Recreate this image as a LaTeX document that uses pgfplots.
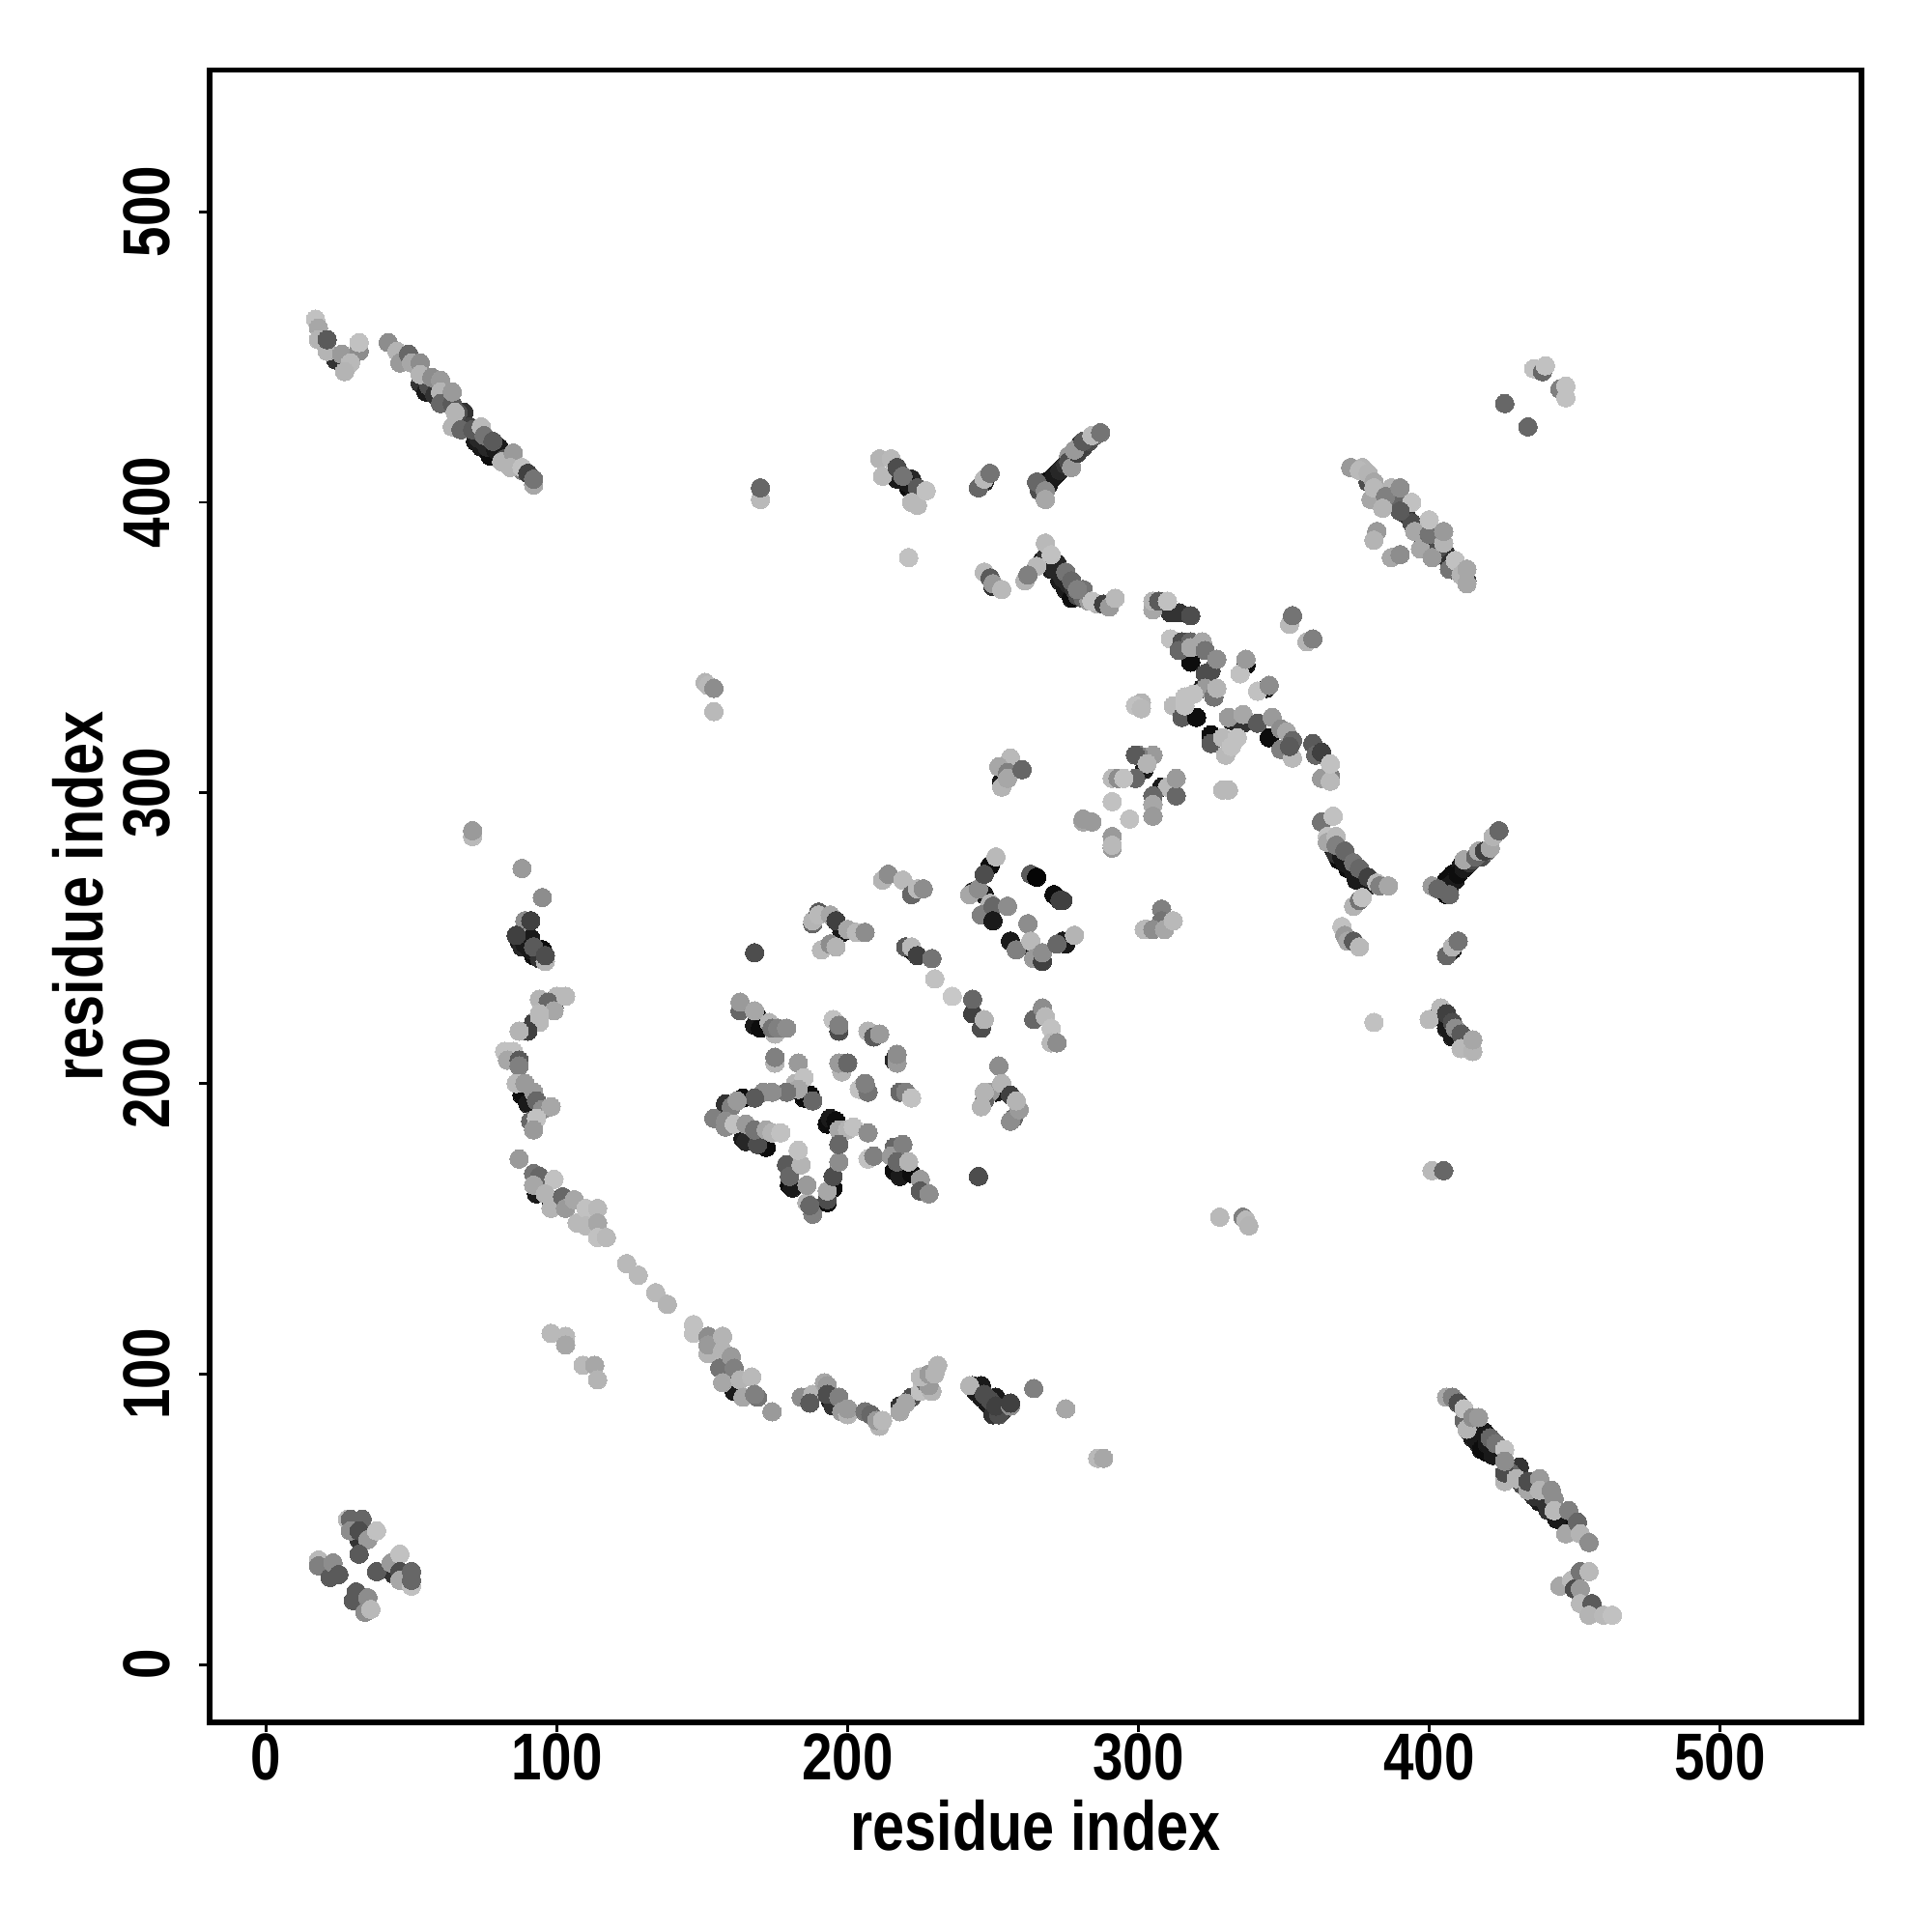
\documentclass[border=0pt]{standalone}
\usepackage{fontspec}
\setmainfont{Liberation Sans}[FakeStretch=0.825]
\usepackage{pgfplots}
\pgfplotsset{compat=1.18}
\pgfplotsset{pt/.style={only marks,scatter,point meta=explicit,mark=*,mark size=2.72pt,
 scatter/use mapped color={draw=mapped color,fill=mapped color,line width=0pt}}}
\begin{document}
\begin{tikzpicture}
\path[use as bounding box] (0,0) rectangle (20,20);
\begin{axis}[at={(2.168cm,2.17cm)},anchor=south west,scale only axis,width=17.105cm,height=17.105cm,
 xmin=-19.5,xmax=548.8,ymin=-19.9,ymax=548.8,
 axis line style={line width=1.62pt},
 xtick={0,100,...,500},ytick={0,100,...,500},
 tick align=outside,tick pos=left,major tick length=0.105cm,
 every tick/.style={black,line width=0.8pt},
 /pgf/number format/assume math mode=true,
 tick label style={font=\fontsize{19.5}{24}\selectfont\bfseries},
 xticklabel style={yshift=0.11cm},
 yticklabel style={rotate=90,anchor=south,yshift=0.18cm},
 xlabel={residue index},ylabel={residue index},
 label style={font=\fontsize{20.5}{24}\selectfont\bfseries},
 xlabel style={at={(axis description cs:0.5,0)},anchor=center,yshift=-1.07cm},
 ylabel style={at={(axis description cs:0,0.5)},anchor=center,yshift=1.365cm},
 colormap={bw}{gray(0cm)=(0); gray(1cm)=(1)},point meta min=0,point meta max=1,
 clip=false]
% dark underlay
\addplot[pt] coordinates {(169,223)[.05](168,220)[.1](170,219)[.05](185,195)[.05](187,196)[.05](164,195)[.05](158,193)[.2](164,181)[.1](165,180)[.15](172,178)[.05]
(193,186)[.05](194,188)[.1](196,187)[.05](193,159)[.05](195,164)[.05](179,172)[.05](180,165)[.05](181,164)[.1](216,170)[.05](218,168)[.1](222,169)[.05](216,208)[.15](251,197)[.1]
(160,99)[.2](161,94)[.1](194,91)[.1](195,89)[.2](218,89)[.2](243,96)[.15](246,96)[.1](250,88)[.15](251,92)[.1](244,94)[.1](246,92)[.1](248,90)[.1](250,86)[.2](253,87)[.2]
(87,249)[.1](91,250)[.1](88,247)[.15](95,246)[.05](92,244)[.05](89,248)[.1](91,246)[.1](93,245)[.1](94,243)[.2](99,226)[.2](88,196)[.05](90,193)[.1](93,162)[.1](98,160)[.1]
(24,449)[.2](47,449)[.05](53,441)[.2](55,438)[.1](68,431)[.2](72,421)[.1](74,419)[.1](77,416)[.05](80,419)[.1](81,416)[.2]
(56,440)[.3](58,437)[.2](62,435)[.3](66,431)[.3](70,426)[.25](72,424)[.2](73,422)[.15](76,419)[.15](79,418)[.1](82,415)[.3](86,413)[.4](88,411)[.5]
(217,408)[.1](221,405)[.05](222,408)[.15](218,410)[.2](220,407)[.1](223,404)[.1](247,407)[.15]
(268,407)[.05](270,408)[.05](272,410)[.05](274,412)[.1](280,420)[.2](266,404)[.3](269,406)[.1](271,409)[.1](273,411)[.15](275,413)[.2](277,415)[.2](279,417)[.3](281,419)[.25](283,421)[.3](285,423)[.4]
(250,371)[.2](267,380)[.1](270,377)[.1](272,379)[.15](273,373)[.1](275,370)[.1](277,367)[.05](268,381)[.2](270,379)[.15](271,377)[.15](273,376)[.15](274,374)[.15](276,372)[.15](278,370)[.2](279,368)[.3](281,367)[.4](283,366)[.6](286,365)[.7](288,365)[.7]
(398,387)[.1](406,382)[.2](379,407)[.3](383,402)[.3](386,400)[.2](392,396)[.2](394,393)[.3](403,384)[.3](407,379)[.2](410,376)[.2](311,362)[.2](314,362)[.2]
(318,345)[.05](322,336)[.1](337,344)[.05](344,336)[.1](325,320)[.05](332,325)[.15](336,324)[.2](345,319)[.05](302,308)[.1](308,302)[.1](253,304)[.1]
(243,266)[.15](247,265)[.1](249,275)[.05](256,249)[.1](264,246)[.1](274,249)[.1](198,252)[.1](196,247)[.2](222,246)[.05]
(367,281)[.05](369,277)[.05](372,274)[.05](375,270)[.1](379,268)[.15](368,279)[.2](370,278)[.1](371,276)[.1](373,275)[.1](374,273)[.1](376,272)[.1](377,270)[.1](378,269)[.1]
(406,265)[.05](405,268)[.1](406,270)[.05](408,272)[.05](411,275)[.1](413,275)[.2](407,268)[.1](409,270)[.1](410,272)[.05](412,274)[.1](414,276)[.2](415,277)[.3](418,278)[.3](420,280)[.4]
(408,246)[.1](403,223)[.15](406,219)[.1](408,216)[.1](275,248)[.1]
(419,80)[.1](417,76)[.1](420,73)[.05](424,73)[.1](431,68)[.2](438,56)[.1](441,53)[.2](447,48)[.05](412,84)[.4](414,80)[.2](415,78)[.1](417,78)[.1](418,74)[.05](420,76)[.1](422,72)[.1](428,66)[.4](432,62)[.3](436,58)[.2](440,56)[.2](444,50)[.1]
(32,43)[.2](44,31)[.2]};
% star cluster
\addplot[pt] coordinates {(163,225)[.4](163,228)[.6](168,225)[.65](173,221)[.7](175,217)[.7](174,219)[.45](176,219)[.5](179,219)[.55]
(175,207)[.7](175,209)[.5](183,207)[.6](182,200)[.7](185,202)[.75](183,198)[.65](188,194)[.4](179,197)[.45](174,197)[.55](171,197)[.55](168,195)[.35](160,192)[.5](162,194)[.6]
(154,188)[.5](158,187)[.55](158,185)[.55](161,186)[.75](165,186)[.6](169,179)[.3](168,184)[.45](172,184)[.65](174,183)[.7](177,183)[.75]
(195,222)[.75](197,218)[.3](197,220)[.5](207,218)[.7](209,216)[.35](211,217)[.6](217,207)[.6](217,210)[.55](198,204)[.7](197,207)[.6](200,207)[.4](204,198)[.75](207,197)[.45](206,200)[.5](218,197)[.4](220,197)[.5](222,195)[.75]
(197,184)[.65](200,184)[.7](202,185)[.75](207,183)[.55](193,160)[.3](193,163)[.65](195,168)[.3](197,173)[.55](197,179)[.4](188,155)[.5](186,159)[.7](187,158)[.4](186,165)[.6](179,172)[.35](180,168)[.4](184,172)[.7](183,177)[.75]
(207,174)[.75](209,175)[.5](216,178)[.4](215,175)[.6](219,179)[.5](217,173)[.4](221,173)[.7](225,167)[.6](225,163)[.35](228,162)[.55](245,168)[.3]
(230,236)[.75](236,230)[.78](243,224)[.25](246,219)[.3](243,229)[.4](247,222)[.7]
(264,222)[.4](267,226)[.55](268,223)[.72](270,219)[.75](270,214)[.72](272,214)[.55]
(252,206)[.55](249,197)[.6](253,200)[.7](247,194)[.4](246,192)[.7](247,197)[.7](256,196)[.25](257,188)[.4](256,187)[.55](259,191)[.6](258,194)[.7]};
% bottom arc
\addplot[pt] coordinates {(147,114)[.75](147,117)[.75](152,113)[.55](152,107)[.7](152,110)[.6](157,113)[.7](157,108)[.7](156,102)[.45](160,106)[.6](161,102)[.5](157,97)[.65](163,98)[.7](167,99)[.72](164,92)[.65](169,92)[.45](168,93)[.5](174,87)[.6]
(184,92)[.55](188,93)[.7](187,90)[.35](192,97)[.65](193,96)[.6](193,93)[.3](197,92)[.5](198,87)[.6](200,86)[.7](200,88)[.6](206,87)[.45](208,86)[.4](211,82)[.7](210,84)[.6](212,84)[.72]
(218,87)[.65](222,92)[.3](220,90)[.65](225,94)[.75](229,94)[.7](227,97)[.4](228,96)[.6](225,99)[.72](228,100)[.6](231,103)[.7](230,100)[.7]
(242,96)[.7](247,93)[.3](252,86)[.3](249,91)[.3](251,89)[.25](256,89)[.55](256,90)[.25](264,95)[.5](275,88)[.65](286,71)[.72](288,71)[.65]
(147,117)[.75](124,138)[.72](128,134)[.72](134,128)[.72](138,124)[.7](98,114)[.72](103,113)[.72](103,110)[.65](109,103)[.72](113,103)[.65](114,98)[.7]};
% left arcs
\addplot[pt] coordinates {(88,274)[.6](95,264)[.55](89,256)[.55](91,256)[.25](86,251)[.25](92,247)[.35](96,242)[.7](96,244)[.3]
(100,230)[.72](94,229)[.7](97,228)[.4](99,225)[.65](103,230)[.72](92,221)[.25](94,224)[.72](94,221)[.72](90,218)[.25](87,218)[.7]
(82,211)[.75](85,211)[.75](83,208)[.65](87,208)[.35](87,206)[.5]
(86,200)[.72](89,200)[.6](92,197)[.6](93,194)[.4](95,191)[.55](98,192)[.65](91,187)[.4](93,188)[.75](92,184)[.6]
(87,174)[.6](92,169)[.45](94,168)[.4](92,165)[.65](99,167)[.75](96,162)[.7](98,157)[.7](102,161)[.4](103,157)[.6](106,160)[.65](107,152)[.72](110,157)[.75](110,151)[.72](114,157)[.72](114,152)[.65](114,147)[.75](117,147)[.72]
(71,285)[.72](71,287)[.6](168,245)[.3]};
% top left band
\addplot[pt] coordinates {(17,463)[.75](18,460)[.65](18,456)[.7](21,452)[.7](21,456)[.35](26,451)[.6](32,452)[.55](32,455)[.75](29,448)[.72](27,445)[.7]
(42,455)[.55](45,452)[.7](46,448)[.6](49,451)[.4](50,448)[.65](53,448)[.55](53,444)[.7](57,443)[.55](60,442)[.6](60,438)[.7](60,434)[.4](64,434)[.35](64,438)[.6](65,431)[.7](64,426)[.7](67,425)[.4](71,425)[.35](74,426)[.72](75,423)[.45](78,421)[.35](81,414)[.7](85,417)[.6](84,412)[.7](88,412)[.75](90,410)[.25](92,406)[.65](92,408)[.45]};
% top middle
\addplot[pt] coordinates {(170,401)[.72](170,405)[.4](151,338)[.7](152,337)[.72](154,336)[.55](154,328)[.72](221,381)[.75]
(211,415)[.7](215,415)[.72](212,409)[.72](217,412)[.3](219,409)[.45](224,405)[.35](222,400)[.72](224,399)[.72](227,404)[.75]
(245,405)[.4](247,408)[.72](249,410)[.45]
(265,407)[.4](268,404)[.55](268,401)[.65](276,416)[.6](276,414)[.3](277,412)[.6](279,417)[.25](278,418)[.6](281,421)[.35](284,423)[.72](287,424)[.45]
(247,376)[.72](249,374)[.35](250,372)[.6](253,370)[.72](265,378)[.72](261,373)[.7](262,375)[.5]
(268,386)[.72](270,382)[.75](275,376)[.45](277,373)[.4](281,370)[.45](284,366)[.75](288,365)[.25](290,364)[.6](292,367)[.72]
(426,434)[.4](434,426)[.4](436,446)[.75](439,445)[.4](440,447)[.75](445,439)[.5](447,436)[.75](447,440)[.75]};
% upper right band
\addplot[pt] coordinates {(373,412)[.6](377,412)[.7](376,411)[.72](379,410)[.7](381,407)[.65](380,401)[.65](381,405)[.72](390,400)[.4](387,405)[.7](385,402)[.5](390,405)[.55](394,400)[.75](390,397)[.35](384,398)[.7](382,390)[.6](381,387)[.7](387,381)[.65](390,382)[.55]
(396,391)[.3](395,390)[.65](397,384)[.65](401,381)[.6](400,389)[.45](400,394)[.75](405,386)[.7](405,390)[.6](407,377)[.45](409,380)[.75](413,373)[.25](411,375)[.7](413,372)[.65](413,377)[.65]
(305,363)[.65](305,366)[.7](307,366)[.35](310,366)[.75](318,361)[.3](352,358)[.72](353,361)[.45](358,352)[.7](360,353)[.5]};
% central diagonal
\addplot[pt] coordinates {(311,353)[.75](315,352)[.3](314,349)[.4](318,352)[.4](318,350)[.65](322,352)[.65](323,349)[.45](323,341)[.3](325,342)[.3](323,336)[.6](326,333)[.45](327,336)[.7](327,346)[.55]
(335,341)[.75](337,346)[.6](341,335)[.75](345,337)[.55](301,331)[.7](299,330)[.75](301,329)[.72]
(312,330)[.72](315,326)[.35](320,326)[.05](316,333)[.75](316,330)[.75](319,334)[.75](325,317)[.35](330,313)[.72](329,319)[.72](332,316)[.75](334,319)[.75]
(331,326)[.6](336,327)[.65](341,324)[.35](349,315)[.5](346,326)[.6](349,322)[.55](351,321)[.65](353,312)[.72](353,318)[.4](352,316)[.35]
(360,317)[.35](361,313)[.4](363,314)[.25](366,306)[.5](363,305)[.6](366,304)[.72](366,310)[.75]
(329,301)[.72](331,301)[.72]
(305,313)[.6](300,313)[.5](299,313)[.35](303,310)[.7](299,305)[.4](291,305)[.72](293,305)[.55](295,305)[.75](310,302)[.72](313,299)[.4](313,305)[.6](305,299)[.4](305,296)[.65](305,292)[.6](291,297)[.75](297,291)[.75](281,290)[.65](281,291)[.72](284,290)[.6](291,281)[.6](291,285)[.6](291,282)[.72]
(256,312)[.72](252,309)[.65](253,302)[.7](255,307)[.5](255,305)[.65](260,308)[.4]
(281,291)[.6]};
% central ring
\addplot[pt] coordinates {(242,265)[.65](245,267)[.55](247,272)[.3](251,278)[.72](249,262)[.7](246,258)[.5](250,261)[.4](250,256)[.1](255,261)[.55]
(263,272)[.35](265,271)[.02](271,265)[.05](273,263)[.25](262,255)[.55](258,246)[.5](263,249)[.72](264,243)[.6](267,242)[.25](267,245)[.55](272,248)[.4](278,251)[.72]
(212,270)[.7](214,272)[.55](219,270)[.72](222,265)[.4](224,267)[.72](226,267)[.55]
(188,255)[.4](188,256)[.7](190,259)[.35](190,258)[.72](194,258)[.65](191,246)[.72](194,248)[.55](196,247)[.7](196,256)[.25](200,253)[.65](203,252)[.72](206,252)[.55]
(220,247)[.35](222,247)[.72](224,244)[.25](229,243)[.45]};
% right arms
\addplot[pt] coordinates {(363,290)[.45](367,292)[.75](365,285)[.75](365,283)[.65](368,285)[.72](368,282)[.5](371,280)[.4](374,276)[.45](376,274)[.4](379,271)[.25](382,269)[.72](383,268)[.5](386,268)[.65]
(374,261)[.7](376,263)[.45](377,264)[.75](370,254)[.75](371,251)[.6](372,249)[.65](374,249)[.35](376,247)[.72]
(401,268)[.6](403,267)[.4](407,265)[.4](412,277)[.65](416,278)[.4](417,280)[.65](419,280)[.25](421,281)[.65](422,285)[.7](424,287)[.4]
(406,244)[.4](408,247)[.7](410,249)[.45]
(404,226)[.72](400,222)[.72](406,224)[.25](408,221)[.3](409,219)[.55](411,217)[.35](411,212)[.72](415,211)[.7](415,215)[.65](381,221)[.75]
(328,154)[.72](336,154)[.5](337,153)[.72](338,151)[.7](401,170)[.72](405,170)[.4]
(308,260)[.5](308,256)[.45](303,253)[.7](302,253)[.72](305,253)[.55](309,253)[.65](312,256)[.72](278,251)[.7](274,263)[.25](279,370)[.5]};
% bottom right band
\addplot[pt] coordinates {(406,92)[.65](408,92)[.5](410,90)[.3](412,88)[.75](413,81)[.7](415,85)[.55](417,85)[.6](421,78)[.4](423,76)[.45](426,74)[.75]
(426,63)[.7](426,66)[.3](426,70)[.55](430,64)[.7](434,60)[.65](434,63)[.3](438,64)[.6](438,60)[.7](442,60)[.55](443,57)[.55](443,53)[.72](448,53)[.5](447,45)[.65](451,49)[.4](452,45)[.7](455,42)[.55]
(445,27)[.65](449,29)[.72](450,26)[.3](452,32)[.45](455,32)[.72](452,26)[.6](452,21)[.72](456,21)[.35](455,17)[.7](460,17)[.72](463,17)[.75]};
% bottom left
\addplot[pt] coordinates {(28,50)[.72](29,50)[.4](33,50)[.4](29,46)[.55](32,46)[.3](35,43)[.6](38,46)[.75](32,38)[.35]
(18,36)[.72](18,34)[.5](22,30)[.35](23,35)[.55](25,31)[.35](38,32)[.35](43,35)[.6](46,38)[.75](46,32)[.3](46,29)[.65](50,27)[.75](50,29)[.4](50,32)[.4]
(31,25)[.35](30,22)[.35](35,23)[.55](34,18)[.55](36,19)[.72]};
\end{axis}
\end{tikzpicture}
\end{document}
